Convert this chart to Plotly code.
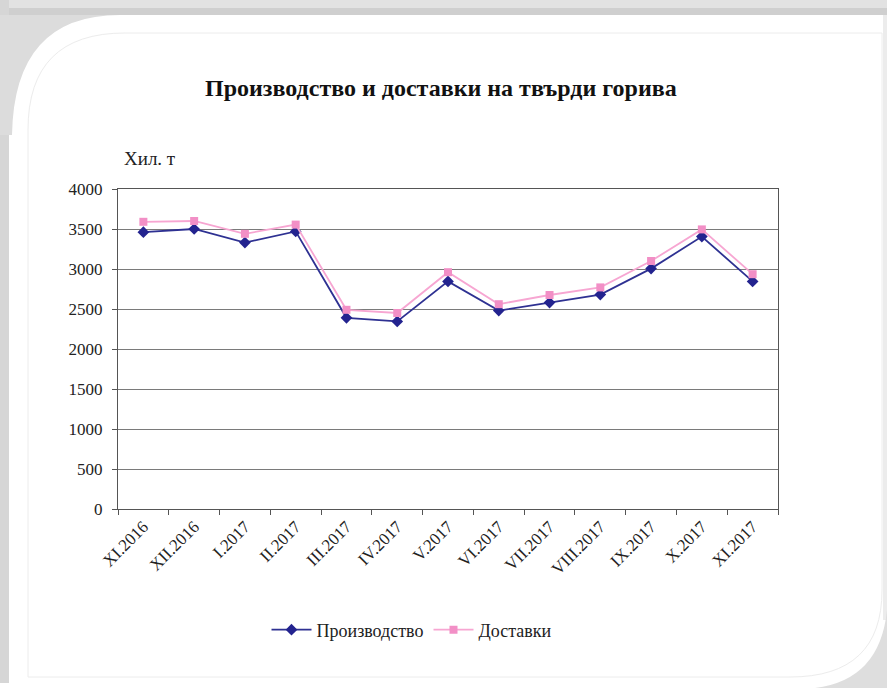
import plotly.graph_objects as go

categories = ["XI.2016", "XII.2016", "I.2017", "II.2017", "III.2017", "IV.2017", "V.2017",
              "VI.2017", "VII.2017", "VIII.2017", "IX.2017", "X.2017", "XI.2017"]
proizvodstvo = [3460, 3500, 3330, 3470, 2390, 2345, 2845, 2480, 2580, 2680, 3005, 3405, 2845]
dostavki = [3590, 3600, 3440, 3555, 2490, 2450, 2960, 2560, 2675, 2770, 3100, 3495, 2935]
y_ticks = [0, 500, 1000, 1500, 2000, 2500, 3000, 3500, 4000]

W_FIG, H_FIG = 887, 688
L, R, T, B = 118, 109, 189, 179
PW, PH = W_FIG - L - R, H_FIG - T - B

def px(x):
    return (x - L) / PW

def py(y):
    return (H_FIG - B - y) / PH

def path(points_cmds):
    out = []
    for cmd, *coords in points_cmds:
        pairs = []
        for i in range(0, len(coords), 2):
            pairs.append(f"{px(coords[i]):.5f},{py(coords[i+1]):.5f}")
        out.append(cmd + " " + " ".join(pairs) if pairs else cmd)
    return " ".join(out)

serif = "Liberation Serif, Times New Roman, serif"

fig = go.Figure()
fig.add_trace(go.Scatter(
    x=categories, y=proizvodstvo, name="Производство", mode="lines+markers",
    line=dict(color="#2e3192", width=1.8),
    marker=dict(symbol="diamond", size=9, color="#23238f"),
))
fig.add_trace(go.Scatter(
    x=categories, y=dostavki, name="Доставки", mode="lines+markers",
    line=dict(color="#f7a6d2", width=1.8),
    marker=dict(symbol="square", size=8, color="#f28fc6"),
))

shapes = [
    dict(type="rect", xref="paper", yref="paper", x0=px(0), x1=px(887), y0=py(0), y1=py(8),
         fillcolor="#e2e2e2", line_width=0, layer="below"),
    dict(type="rect", xref="paper", yref="paper", x0=px(0), x1=px(887), y0=py(8), y1=py(15),
         fillcolor="#cfcfcf", line_width=0, layer="below"),
    dict(type="rect", xref="paper", yref="paper", x0=px(0), x1=px(9), y0=py(0), y1=py(683),
         fillcolor="#d6d6d6", line_width=0, layer="below"),
    dict(type="path", xref="paper", yref="paper",
         path=path([("M", 0, 15), ("L", 120, 15), ("Q", 14, 15, 12, 135), ("L", 0, 135), ("Z",)]),
         fillcolor="#dcdcdc", line_width=0, layer="below"),
    dict(type="rect", xref="paper", yref="paper", x0=px(883), x1=px(887), y0=py(15), y1=py(620),
         fillcolor="#ececec", line_width=0, layer="below"),
    dict(type="path", xref="paper", yref="paper",
         path=path([("M", 887, 610), ("Q", 880, 680, 815, 688), ("L", 887, 688), ("Z",)]),
         fillcolor="#dedede", line_width=0, layer="below"),
    dict(type="path", xref="paper", yref="paper",
         path=path([("M", 28, 677), ("L", 28, 130), ("Q", 28, 33, 125, 33), ("L", 882, 33),
                    ("L", 882, 590), ("Q", 882, 677, 790, 677), ("Z",)]),
         fillcolor="rgba(0,0,0,0)", line=dict(color="#ececec", width=1), layer="below"),
]

fig.update_layout(
    width=W_FIG, height=H_FIG,
    margin=dict(l=L, r=R, t=T, b=B, pad=0),
    paper_bgcolor="white", plot_bgcolor="white",
    font=dict(family=serif, color="#222222", size=17),
    showlegend=True,
    legend=dict(orientation="h", x=px(412), xanchor="center", y=py(630), yanchor="middle",
                font=dict(family=serif, size=18, color="#222222"),
                itemwidth=40, tracegroupgap=0, bgcolor="rgba(0,0,0,0)"),
    shapes=shapes,
    annotations=[
        dict(text="<b>Производство и доставки на твърди горива</b>", xref="paper", yref="paper",
             x=px(441), y=py(88), xanchor="center", yanchor="middle", showarrow=False,
             font=dict(family=serif, size=24, color="#111111")),
        dict(text="Хил. т", xref="paper", yref="paper", x=px(122), y=py(158),
             xanchor="left", yanchor="middle", showarrow=False,
             font=dict(family=serif, size=19, color="#222222")),
    ],
)

fig.update_xaxes(
    type="category", categoryorder="array", categoryarray=categories,
    range=[-0.5, len(categories) - 0.5],
    showline=True, linecolor="#555555", linewidth=1.2, mirror=True,
    ticks="outside", tickson="boundaries", ticklen=5, tickcolor="#555555",
    tickangle=-45, showgrid=False, zeroline=False,
    tickfont=dict(family=serif, size=17, color="#222222"),
)
fig.update_yaxes(
    range=[0, 4000], tickvals=y_ticks, ticktext=[str(v) for v in y_ticks],
    showline=True, linecolor="#555555", linewidth=1.2, mirror=True,
    ticks="outside", ticklen=5, tickcolor="#555555", ticklabelstandoff=6,
    showgrid=True, gridcolor="#7a7a7a", gridwidth=1.2, zeroline=False,
    tickfont=dict(family=serif, size=17, color="#222222"),
)

fig.write_html("out.html", config={"displayModeBar": False},
               post_script="document.body.style.margin='0';")
